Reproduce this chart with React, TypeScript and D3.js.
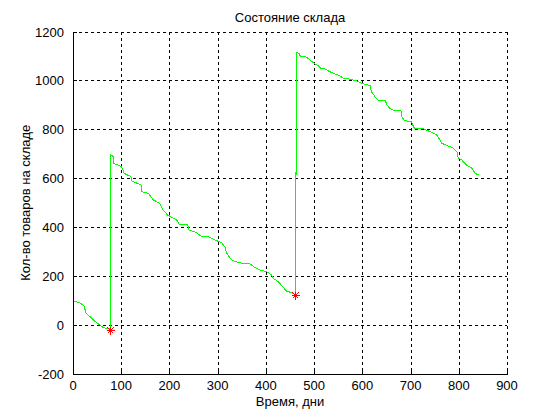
import * as d3 from "d3";

const W = 560;
const H = 420;
const M = { left: 73, right: 507, top: 31.5, bottom: 374 };

const xTicks = [0, 100, 200, 300, 400, 500, 600, 700, 800, 900];
const yTicks = [-200, 0, 200, 400, 600, 800, 1000, 1200];

// stock level (day, units)
const days = [
  0, 14, 23, 27, 39, 46, 56, 63, 75, 77, 77, 84, 84, 94, 101, 106, 120, 122, 141, 142,
  156, 167, 180, 187, 196, 215, 220, 238, 240, 256, 265, 277, 294, 308, 315, 319, 329,
  343, 367, 377, 388, 402, 412, 415, 426, 436, 443, 454, 461, 461, 463, 463, 469, 471,
  483, 491, 500, 509, 514, 523, 532, 540, 552, 561, 574, 588, 599, 616, 619, 626, 633,
  647, 651, 657, 664, 680, 682, 687, 702, 706, 709, 726, 740, 754, 761, 765, 778, 789,
  796, 799, 806, 816, 827, 834, 841,
];
const stock = [
  98, 91, 78, 48, 28, 14, 0, -11, -15, -15, 698, 688, 661, 654, 647, 620, 607, 589, 573,
  545, 539, 511, 498, 470, 450, 430, 413, 409, 389, 378, 364, 364, 348, 337, 320, 293,
  266, 255, 250, 236, 225, 218, 205, 191, 177, 154, 139, 132, 123, 622, 618, 1115, 1111,
  1100, 1097, 1084, 1070, 1060, 1050, 1047, 1036, 1029, 1020, 1009, 1005, 998, 988, 979,
  954, 934, 920, 920, 900, 886, 879, 876, 852, 836, 831, 811, 804, 803, 791, 777, 757,
  743, 732, 723, 709, 682, 675, 654, 641, 620, 614,
];

// order moments (red stars)
const orderDays = [77, 461];
const orderLevels = [-22, 122];

const x = d3.scaleLinear().domain([0, 900]).range([M.left, M.right]);
const y = d3.scaleLinear().domain([-200, 1200]).range([M.bottom, M.top]);

const FONT = "'Liberation Sans', Arial, sans-serif";

export default function App() {
  const line = d3
    .line<number>()
    .x((_, i) => x(days[i]))
    .y((d) => y(d));

  return (
    <svg
      width={W}
      height={H}
      style={{ position: "absolute", left: 0, top: 0, background: "#fff" }}
      fontFamily={FONT}
      fontSize={13}
    >
      {/* grid */}
      <g stroke="#000" strokeWidth={1} strokeDasharray="3,3" shapeRendering="crispEdges">
        {xTicks.slice(1).map((t) => (
          <line key={"gx" + t} x1={Math.round(x(t)) + 0.5} x2={Math.round(x(t)) + 0.5} y1={M.top} y2={M.bottom} />
        ))}
        {yTicks.slice(1).map((t) => (
          <line key={"gy" + t} x1={M.left} x2={M.right} y1={Math.round(y(t)) + 0.5} y2={Math.round(y(t)) + 0.5} />
        ))}
      </g>

      {/* data */}
      <path
        d={line(stock) || ""}
        fill="none"
        stroke="#00ff00"
        strokeWidth={1}
        shapeRendering="crispEdges"
      />
      {orderDays.map((d, i) => {
        const cx = Math.round(x(d)) + 0.5;
        const cy = Math.round(y(orderLevels[i])) + 0.5;
        const r = 4;
        return (
          <g key={"o" + i} stroke="#ff0000" strokeWidth={1} shapeRendering="crispEdges">
            <line x1={cx - r} x2={cx + r} y1={cy} y2={cy} />
            <line x1={cx} x2={cx} y1={cy - r} y2={cy + r} />
            <line x1={cx - 3} x2={cx + 3} y1={cy - 3} y2={cy + 3} />
            <line x1={cx - 3} x2={cx + 3} y1={cy + 3} y2={cy - 3} />
          </g>
        );
      })}

      {/* axes */}
      <g stroke="#000" strokeWidth={1} shapeRendering="crispEdges">
        <line x1={M.left + 0.5} x2={M.left + 0.5} y1={M.top} y2={M.bottom + 0.5} />
        <line x1={M.left} x2={M.right + 0.5} y1={M.bottom + 0.5} y2={M.bottom + 0.5} />
        {xTicks.map((t) => (
          <line key={"tx" + t} x1={Math.round(x(t)) + 0.5} x2={Math.round(x(t)) + 0.5} y1={M.bottom} y2={M.bottom - 4} />
        ))}
        {yTicks.map((t) => (
          <line key={"ty" + t} x1={M.left} x2={M.left + 4} y1={Math.round(y(t)) + 0.5} y2={Math.round(y(t)) + 0.5} />
        ))}
      </g>

      {xTicks.map((t) => (
        <text key={"lx" + t} x={x(t)} y={M.bottom + 16} textAnchor="middle">
          {t}
        </text>
      ))}
      {yTicks.map((t) => (
        <text key={"ly" + t} x={M.left - 9} y={y(t) + 5} textAnchor="end">
          {t}
        </text>
      ))}

      <text x={(M.left + M.right) / 2} y={22} textAnchor="middle">
        Состояние склада
      </text>
      <text x={(M.left + M.right) / 2} y={406} textAnchor="middle">
        Время, дни
      </text>
      <text
        transform={`translate(30, ${(M.top + M.bottom) / 2}) rotate(-90)`}
        textAnchor="middle"
      >
        Кол-во товаров на складе
      </text>
    </svg>
  );
}
